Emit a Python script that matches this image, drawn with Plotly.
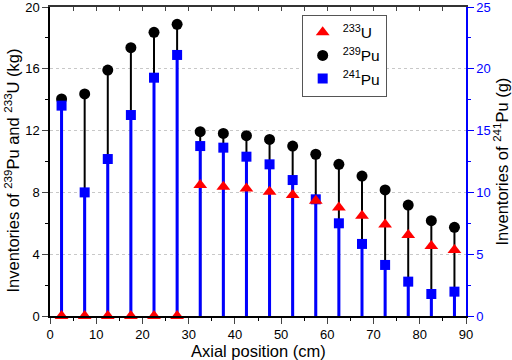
import plotly.graph_objects as go

positions = [2.5, 7.5, 12.5, 17.5, 22.5, 27.5, 32.5, 37.5, 42.5, 47.5,
             52.5, 57.5, 62.5, 67.5, 72.5, 77.5, 82.5, 87.5]
u233_kg = [0, 0, 0, 0, 0, 0, 8.48, 8.37, 8.26, 8.05,
           7.83, 7.46, 7.03, 6.49, 5.93, 5.24, 4.53, 4.27]
pu239_kg = [14.05, 14.37, 15.92, 17.37, 18.36, 18.88, 11.93, 11.82, 11.67, 11.43,
            11.0, 10.47, 9.82, 9.06, 8.16, 7.18, 6.17, 5.74]
pu241_g = [17.02, 10.0, 12.7, 16.26, 19.28, 21.12, 13.75, 13.62, 12.89, 12.27,
           11.0, 9.44, 7.5, 5.83, 4.13, 2.78, 1.78, 1.97]

FONT = "Liberation Sans, Arial, sans-serif"
BLUE = "#0000ff"
RED = "#ff0000"


def stems(xs, ys):
    sx, sy = [], []
    for x, y in zip(xs, ys):
        sx += [x, x, None]
        sy += [0, y, None]
    return sx, sy


fig = go.Figure()

bx, by = stems(positions, pu239_kg)
fig.add_trace(go.Scatter(x=bx, y=by, mode="lines", line=dict(color="black", width=2),
                         showlegend=False, hoverinfo="skip", xaxis="x", yaxis="y"))
fig.add_trace(go.Scatter(x=positions, y=pu239_kg, mode="markers",
                         marker=dict(symbol="circle", size=11, color="black"),
                         name="<sup>239</sup>Pu", legendrank=2, xaxis="x", yaxis="y"))

qx, qy = stems(positions, pu241_g)
fig.add_trace(go.Scatter(x=qx, y=qy, mode="lines", line=dict(color=BLUE, width=3),
                         showlegend=False, hoverinfo="skip", xaxis="x", yaxis="y2"))
fig.add_trace(go.Scatter(x=positions, y=pu241_g, mode="markers",
                         marker=dict(symbol="square", size=10, color=BLUE),
                         name="<sup>241</sup>Pu", legendrank=3, xaxis="x", yaxis="y2"))

fig.add_trace(go.Scatter(x=positions, y=u233_kg, mode="markers",
                         marker=dict(symbol="triangle-up", size=12, color=RED),
                         cliponaxis=False,
                         name="<sup>233</sup>U", legendrank=1, xaxis="x2", yaxis="y3"))

tickfont = dict(family=FONT, size=13, color="black")
TITLE_SIZE = 16.5

fig.update_layout(
    width=512, height=360,
    margin=dict(l=50, r=46, t=7, b=44),
    paper_bgcolor="white", plot_bgcolor="white",
    font=dict(family=FONT, size=13, color="black"),
    xaxis=dict(range=[0, 90], dtick=10, tick0=0, ticks="outside", ticklen=6, tickwidth=1.2,
               showline=True, linecolor="black", linewidth=1.5, showgrid=False, zeroline=False,
               tickfont=tickfont, automargin=False, ticklabeloverflow="allow",
               minor=dict(dtick=5, ticks="outside", ticklen=3, tickcolor="black")),
    xaxis2=dict(range=[0, 90], overlaying="x", side="top", anchor="y3", dtick=5, ticks="inside",
                ticklen=4, tickwidth=1.2, showticklabels=False, showline=True, linecolor="#333333",
                linewidth=1.5, showgrid=False, zeroline=False, automargin=False),
    yaxis=dict(range=[0, 20], dtick=4, ticks="outside", ticklen=6, tickwidth=1.2,
               showline=True, linecolor="black", linewidth=1.5,
               showgrid=True, gridcolor="#c8c8c8", griddash="dot", gridwidth=1, zeroline=False,
               tickfont=tickfont, automargin=False, ticklabeloverflow="allow",
               minor=dict(dtick=2, ticks="outside", ticklen=3, tickcolor="black")),
    yaxis2=dict(range=[0, 25], dtick=5, overlaying="y", side="right", anchor="x",
                ticks="outside", ticklen=6, tickwidth=1.2, tickcolor=BLUE,
                showline=True, linecolor=BLUE, linewidth=1.5, showgrid=False, zeroline=False,
                tickfont=dict(family=FONT, size=13, color=BLUE), automargin=False,
                ticklabeloverflow="allow",
                minor=dict(dtick=2.5, ticks="outside", ticklen=3, tickcolor=BLUE)),
    yaxis3=dict(range=[0, 20], overlaying="y", anchor="x2", visible=False),
    legend=dict(x=0.605, y=0.975, xanchor="left", yanchor="top",
                bgcolor="white", bordercolor="#555555", borderwidth=1,
                font=dict(family=FONT, size=15.5), traceorder="normal",
                itemwidth=30, tracegroupgap=0),
    showlegend=True,
    annotations=[
        dict(text="Axial position (cm)", xref="x domain", yref="y domain", x=0.5, y=0,
             yanchor="top", yshift=-24, showarrow=False, font=dict(family=FONT, size=TITLE_SIZE)),
        dict(text="Inventories of <sup>239</sup>Pu and <sup>233</sup>U (kg)", textangle=-90,
             xref="x domain", yref="y domain", x=0, y=0.5, xanchor="center", xshift=-38,
             yshift=-9, showarrow=False, font=dict(family=FONT, size=TITLE_SIZE)),
        dict(text="Inventories of <sup>241</sup>Pu (g)", textangle=-90,
             xref="x domain", yref="y domain", x=1, y=0.5, xanchor="center", xshift=35,
             showarrow=False, font=dict(family=FONT, size=TITLE_SIZE)),
    ],
)

fig.write_html("out.html", config={"displayModeBar": False},
               post_script="document.body.style.margin='0';")
